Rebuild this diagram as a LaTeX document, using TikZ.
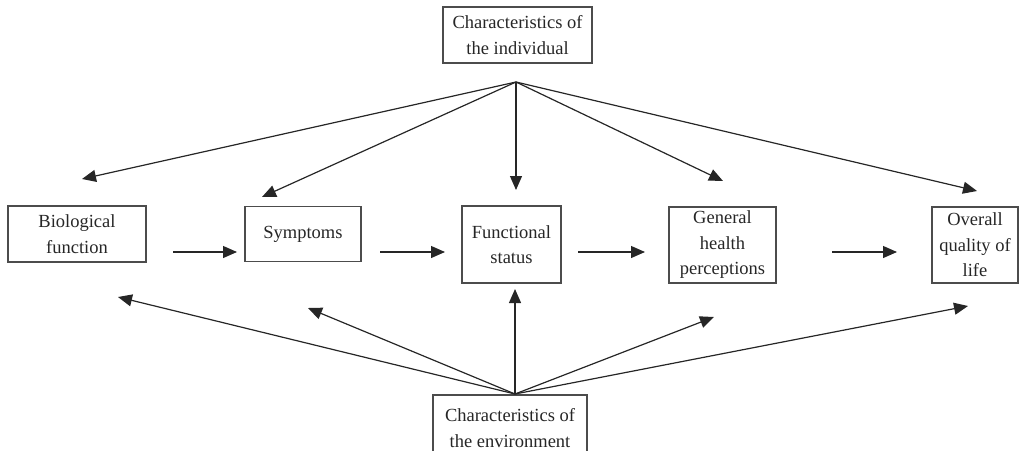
\documentclass[tikz,border=0pt]{standalone}
\usepackage{fontspec}
\setmainfont{Liberation Serif}
\usetikzlibrary{arrows.meta}
\begin{document}
\begin{tikzpicture}[x=1pt,y=-1pt,
  box/.style={draw=black!70, line width=1.4pt, align=center, inner sep=0pt,
    font=\fontsize{18.5}{25.5}\selectfont, text=black!85},
  arr/.style={draw=black!85, line width=1.2pt, -{Triangle[length=14pt,width=12pt]}}]
\useasboundingbox (0,0) rectangle (1020,450);
\clip (0,0) rectangle (1020,450);
% boxes
\node[box, minimum width=149pt, minimum height=56pt] (ind) at (517.5,35) {Characteristics of\\the individual};
\node[box, minimum width=138pt, minimum height=56pt] (bio) at (77,234) {Biological\\function};
\node[box, minimum width=116pt, minimum height=55pt] (sym) at (303,234) {Symptoms};
\node[box, minimum width=99pt, minimum height=77pt] (fun) at (511.5,244.5) {Functional\\status};
\node[box, minimum width=107pt, minimum height=76pt] (gen) at (722.5,245) {General\\health\\perceptions};
\node[box, minimum width=86pt, minimum height=76pt] (ovr) at (975,245) {Overall\\quality of\\life};
\node[box, minimum width=154pt, minimum height=66pt] (env) at (510,428) {Characteristics of\\the environment};
% apex points
\coordinate (topA) at (516,82);
\coordinate (botA) at (515,394);
% tips from top
\coordinate (t1) at (82,179);
\coordinate (t2) at (262,197);
\coordinate (t3) at (516,190);
\coordinate (t4) at (723,181);
\coordinate (t5) at (977,191);
% tips from bottom
\coordinate (b1) at (118,297);
\coordinate (b2) at (308,308);
\coordinate (b3) at (515,289);
\coordinate (b4) at (714,317);
\coordinate (b5) at (968,306);
% horizontal arrows
\coordinate (h1s) at (173,252); \coordinate (h1e) at (237,252);
\coordinate (h2s) at (380,252); \coordinate (h2e) at (445,252);
\coordinate (h3s) at (578,252); \coordinate (h3e) at (645,252);
\coordinate (h4s) at (832,252); \coordinate (h4e) at (897,252);
\foreach \t in {t1,t2,t3,t4,t5} \draw[arr] (topA) -- (\t);
\foreach \b in {b1,b2,b3,b4,b5} \draw[arr] (botA) -- (\b);
\draw[arr] (h1s) -- (h1e);
\draw[arr] (h2s) -- (h2e);
\draw[arr] (h3s) -- (h3e);
\draw[arr] (h4s) -- (h4e);
\end{tikzpicture}
\end{document}
